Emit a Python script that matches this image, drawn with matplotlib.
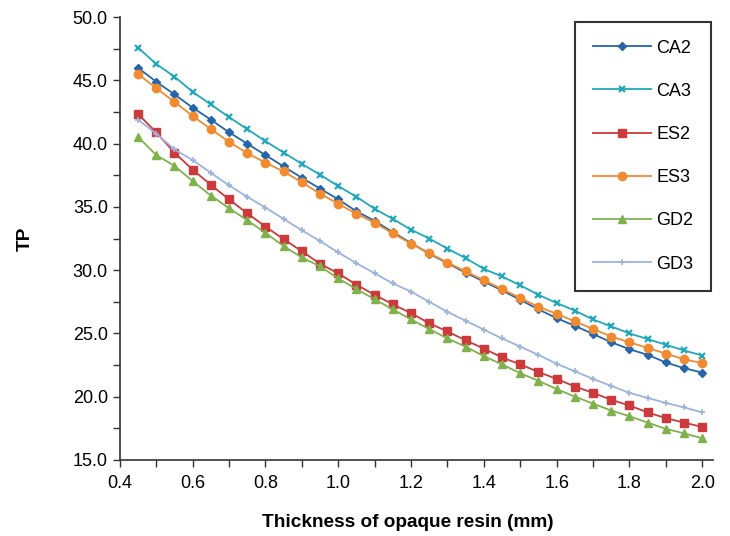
# TP vs thickness of opaque resin
import numpy as np
import matplotlib
matplotlib.use('Agg')
import matplotlib.pyplot as plt
from matplotlib.ticker import MultipleLocator, FormatStrFormatter

plt.rcParams['font.family'] = ['Liberation Sans', 'DejaVu Sans']

# data
thickness = [0.45, 0.50, 0.55, 0.60, 0.65, 0.70, 0.75, 0.80, 0.85, 0.90, 0.95,
             1.00, 1.05, 1.10, 1.15, 1.20, 1.25, 1.30, 1.35, 1.40, 1.45, 1.50,
             1.55, 1.60, 1.65, 1.70, 1.75, 1.80, 1.85, 1.90, 1.95, 2.00]

ca2 = [46.0, 44.9, 43.9, 42.85, 41.9, 40.9, 40.0, 39.1, 38.2, 37.3, 36.45,
       35.6, 34.65, 33.9, 33.0, 32.15, 31.3, 30.55, 29.8, 29.1, 28.4, 27.65,
       26.9, 26.2, 25.6, 24.95, 24.3, 23.75, 23.3, 22.7, 22.25, 21.9]
ca3 = [47.6, 46.3, 45.3, 44.1, 43.1, 42.1, 41.15, 40.2, 39.3, 38.4, 37.55,
       36.65, 35.8, 34.85, 34.05, 33.2, 32.5, 31.7, 30.95, 30.1, 29.5, 28.8,
       28.05, 27.4, 26.8, 26.1, 25.55, 25.0, 24.55, 24.1, 23.65, 23.25]
es2 = [42.35, 40.9, 39.3, 37.95, 36.75, 35.6, 34.5, 33.45, 32.45, 31.5, 30.5,
       29.75, 28.85, 28.05, 27.3, 26.6, 25.8, 25.15, 24.45, 23.8, 23.1, 22.55,
       21.95, 21.4, 20.8, 20.3, 19.75, 19.3, 18.75, 18.3, 17.95, 17.6]
es3 = [45.5, 44.4, 43.3, 42.2, 41.15, 40.15, 39.25, 38.5, 37.8, 36.95, 36.05,
       35.25, 34.45, 33.75, 32.9, 32.1, 31.35, 30.6, 29.9, 29.2, 28.5, 27.8,
       27.1, 26.55, 25.95, 25.35, 24.75, 24.3, 23.85, 23.4, 22.95, 22.65]
gd2 = [40.55, 39.1, 38.25, 37.05, 35.9, 34.9, 33.95, 32.95, 31.9, 31.0, 30.3,
       29.35, 28.5, 27.7, 26.9, 26.1, 25.35, 24.6, 23.95, 23.2, 22.55, 21.85,
       21.25, 20.6, 20.0, 19.45, 18.9, 18.45, 17.95, 17.45, 17.1, 16.7]
gd3 = [41.9, 40.8, 39.55, 38.7, 37.7, 36.7, 35.8, 34.95, 34.05, 33.15, 32.3,
       31.4, 30.55, 29.75, 28.95, 28.3, 27.5, 26.7, 26.0, 25.3, 24.6, 23.95,
       23.3, 22.6, 22.0, 21.4, 20.85, 20.3, 19.9, 19.5, 19.15, 18.75]

fig = plt.figure(figsize=(7.3, 5.36), dpi=100)
ax = fig.add_axes([0.164, 0.142, 0.813, 0.826])

ax.plot(thickness, ca2, color='#2565ab', marker='D', markersize=4.5, lw=1.3, label='CA2')
ax.plot(thickness, ca3, color='#22a7bd', marker='x', markersize=5, mew=1.6, lw=1.3, label='CA3')
ax.plot(thickness, es2, color='#cc3a3c', marker='s', markersize=6, lw=1.3, label='ES2')
ax.plot(thickness, es3, color='#f28a30', marker='o', markersize=6, lw=1.3, label='ES3')
ax.plot(thickness, gd2, color='#7fb24c', marker='^', markersize=6, lw=1.3, label='GD2')
ax.plot(thickness, gd3, color='#9cb4dc', marker='+', markersize=5, mew=1.2, lw=1.3, label='GD3')

ax.set_xlim(0.4, 2.03)
ax.set_ylim(15, 50)
ax.xaxis.set_major_locator(MultipleLocator(0.2))
ax.xaxis.set_minor_locator(MultipleLocator(0.1))
ax.yaxis.set_major_locator(MultipleLocator(5))
ax.yaxis.set_minor_locator(MultipleLocator(2.5))
ax.xaxis.set_major_formatter(FormatStrFormatter('%.1f'))
ax.yaxis.set_major_formatter(FormatStrFormatter('%.1f'))
ax.tick_params(which='both', direction='out', length=5, width=1, labelsize=13, color='#333333')
ax.tick_params(axis='x', pad=6)

for side in ['top', 'right']:
    ax.spines[side].set_visible(False)
for side in ['left', 'bottom']:
    ax.spines[side].set_color('#333333')
    ax.spines[side].set_linewidth(1.2)

ax.set_xlabel('Thickness of opaque resin (mm)', fontsize=13.7, fontweight='bold')
ax.xaxis.set_label_coords(0.486, -0.123)
ax.set_ylabel('TP', fontsize=13.7, fontweight='bold', labelpad=28)

leg = ax.legend(loc='upper left', bbox_to_anchor=(0.767, 0.99), fontsize=13,
                labelspacing=1.45, handlelength=3.2, handletextpad=0.3,
                borderpad=1.0, fancybox=False, framealpha=1, borderaxespad=0)
leg.get_frame().set_edgecolor('#333333')
leg.get_frame().set_linewidth(1.5)

plt.savefig('out.png', dpi=100)
